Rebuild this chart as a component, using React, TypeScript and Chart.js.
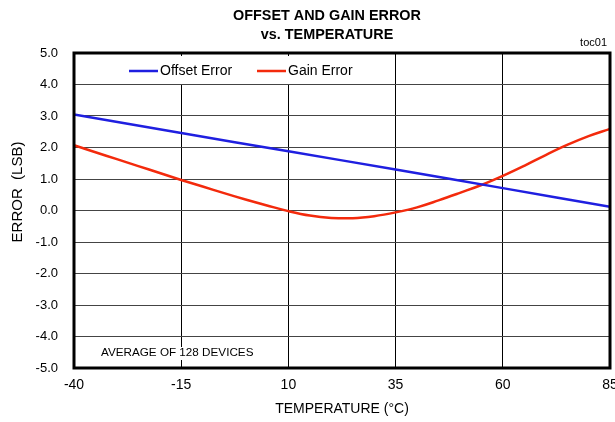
import React, { useEffect, useRef } from "react";
import { Chart, registerables } from "chart.js";

Chart.register(...registerables);

const TITLE_LINES = ["OFFSET AND GAIN ERROR", "vs. TEMPERATURE"];
const TAG = "toc01";
const X_TITLE = "TEMPERATURE (°C)";
const Y_TITLE = "ERROR  (LSB)";
const NOTE = "AVERAGE OF 128 DEVICES";

const X_TICKS = [-40, -15, 10, 35, 60, 85];
const Y_TICKS = [-5, -4, -3, -2, -1, 0, 1, 2, 3, 4, 5];

const OFFSET_T = [-40, -15, 10, 35, 60, 85];
const OFFSET_ERR = [3.05, 2.46, 1.88, 1.3, 0.71, 0.12];

const GAIN_T = [-40, -35, -30, -25, -20, -15, -10, -5, 0, 5, 10, 15, 20, 25, 30, 35, 40, 45, 50, 55, 60, 65, 70, 75, 80, 85];
const GAIN_ERR = [2.07, 1.85, 1.63, 1.41, 1.19, 0.97, 0.76, 0.55, 0.35, 0.16, -0.02, -0.16, -0.235, -0.245, -0.18, -0.06, 0.1, 0.32, 0.56, 0.81, 1.1, 1.42, 1.76, 2.08, 2.36, 2.59];

const SERIES = [
  { label: "Offset Error", color: "#1f1fe0", xs: OFFSET_T, ys: OFFSET_ERR },
  { label: "Gain Error", color: "#f32a0c", xs: GAIN_T, ys: GAIN_ERR },
];

const FONT = "'Liberation Sans', Arial, sans-serif";

const overlay = {
  id: "overlay",
  beforeDatasetsDraw(chart: any) {
    const { ctx } = chart;
    ctx.save();
    ctx.fillStyle = "#fff";
    ctx.fillRect(105, 56, 271, 28);
    const items = chart.data.datasets;
    const pos = [129, 257];
    items.forEach((ds: any, i: number) => {
      const x = pos[i];
      ctx.strokeStyle = ds.borderColor;
      ctx.lineWidth = 2.5;
      ctx.beginPath();
      ctx.moveTo(x, 71);
      ctx.lineTo(x + 29, 71);
      ctx.stroke();
      ctx.fillStyle = "#000";
      ctx.font = `14px ${FONT}`;
      ctx.textAlign = "left";
      ctx.textBaseline = "middle";
      ctx.fillText(ds.label, x + 31, 71);
    });
    ctx.font = `11.7px ${FONT}`;
    const w = ctx.measureText(NOTE).width;
    ctx.fillStyle = "#fff";
    ctx.fillRect(99, 347, w + 4, 13);
    ctx.fillStyle = "#000";
    ctx.textAlign = "left";
    ctx.textBaseline = "middle";
    ctx.fillText(NOTE, 101, 353);
    ctx.restore();
  },
  afterDraw(chart: any) {
    const { ctx, chartArea: a } = chart;
    ctx.save();
    ctx.strokeStyle = "#000";
    ctx.lineWidth = 3;
    ctx.strokeRect(a.left, a.top, a.right - a.left, a.bottom - a.top);
    ctx.fillStyle = "#000";
    ctx.textAlign = "center";
    ctx.textBaseline = "middle";
    ctx.font = `bold 14.4px ${FONT}`;
    ctx.fillText(TITLE_LINES[0], 327, 16);
    ctx.fillText(TITLE_LINES[1], 327, 35);
    ctx.font = `11px ${FONT}`;
    ctx.textAlign = "right";
    ctx.fillText(TAG, 607, 43);
    ctx.textAlign = "center";
    ctx.font = `14px ${FONT}`;
    ctx.fillText(X_TITLE, (a.left + a.right) / 2, 409);
    ctx.font = `15px ${FONT}`;
    ctx.translate(18, 192);
    ctx.rotate(-Math.PI / 2);
    ctx.fillText(Y_TITLE, 0, 0);
    ctx.restore();
  },
};

export default function App() {
  const ref = useRef<HTMLCanvasElement>(null);
  useEffect(() => {
    if (!ref.current) return;
    const chart = new Chart(ref.current, {
      type: "line",
      data: {
        datasets: SERIES.map((s) => ({
          label: s.label,
          data: s.xs.map((x, i) => ({ x, y: s.ys[i] })),
          borderColor: s.color,
          backgroundColor: s.color,
          borderWidth: 2.5,
          pointRadius: 0,
          tension: 0.4,
        })),
      },
      options: {
        animation: false,
        responsive: false,
        layout: { padding: { top: 53, right: 5, left: 0, bottom: 0 }, autoPadding: false },
        plugins: { legend: { display: false }, title: { display: false }, tooltip: { enabled: false } },
        scales: {
          x: {
            type: "linear",
            min: -40,
            max: 85,
            afterBuildTicks: (s: any) => { s.ticks = X_TICKS.map((v) => ({ value: v })); },
            afterFit: (s: any) => { s.height = 54; s.paddingLeft = 0; s.paddingRight = 0; },
            grid: { color: "#000", lineWidth: 1, drawTicks: false },
            border: { display: false },
            ticks: { color: "#000", font: { family: FONT, size: 14 }, padding: 9, maxRotation: 0, autoSkip: false },
          },
          y: {
            type: "linear",
            min: -5,
            max: 5,
            afterBuildTicks: (s: any) => { s.ticks = Y_TICKS.map((v) => ({ value: v })); },
            afterFit: (s: any) => { s.width = 74; s.paddingTop = 0; s.paddingBottom = 0; },
            grid: { color: "#444", lineWidth: 1, drawTicks: false },
            border: { display: false },
            ticks: { color: "#000", font: { family: FONT, size: 13 }, padding: 16, callback: (v: any) => Number(v).toFixed(1) },
          },
        },
      },
      plugins: [overlay],
    });
    return () => chart.destroy();
  }, []);
  return (
    <div style={{ position: "fixed", left: 0, top: 0, width: 615, height: 422, background: "#fff" }}>
      <canvas ref={ref} width={615} height={422} style={{ width: 615, height: 422 }} />
    </div>
  );
}
